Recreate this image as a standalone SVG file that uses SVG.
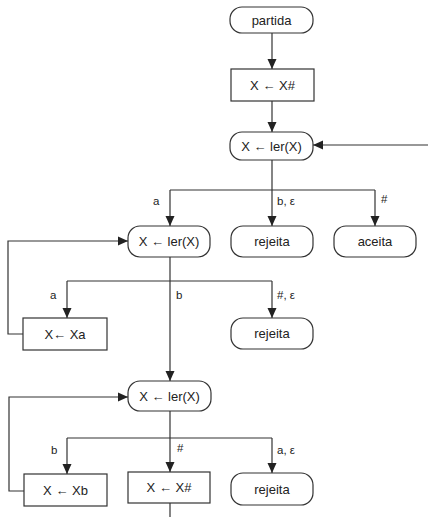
<svg xmlns="http://www.w3.org/2000/svg" width="428" height="517" viewBox="0 0 428 517">
<style>
.n{fill:#fff;stroke:#333;stroke-width:1.2}
.t{font-family:"Liberation Sans","DejaVu Sans",Arial,sans-serif;font-size:13px;fill:#222;text-anchor:middle}
.l{font-family:"Liberation Sans","DejaVu Sans",Arial,sans-serif;font-size:11.5px;fill:#222}
.c{fill:none;stroke:#333;stroke-width:1.2}
</style>
<defs>
<marker id="ah" viewBox="0 0 10 10" refX="10" refY="5" markerWidth="10" markerHeight="10" markerUnits="userSpaceOnUse" orient="auto">
<path d="M0,0.5 L10,5 L0,9.5 z" fill="#222"/>
</marker>
</defs>
<rect width="428" height="517" fill="#fff"/>
<g id="connectors">
<path class="c" d="M272,32 V69" marker-end="url(#ah)"/>
<path class="c" d="M272,101 V132" marker-end="url(#ah)"/>
<path class="c" d="M428,145 H313" marker-end="url(#ah)"/>
<path class="c" d="M272,160 V190"/>
<path class="c" d="M170,190 H375"/>
<path class="c" d="M170,190 V226" marker-end="url(#ah)"/>
<path class="c" d="M272,190 V226" marker-end="url(#ah)"/>
<path class="c" d="M375,190 V226" marker-end="url(#ah)"/>
<path class="c" d="M170,257 V381" marker-end="url(#ah)"/>
<path class="c" d="M67,281 H272"/>
<path class="c" d="M67,281 V318" marker-end="url(#ah)"/>
<path class="c" d="M272,281 V318" marker-end="url(#ah)"/>
<path class="c" d="M23,334 H8 V241 H128" marker-end="url(#ah)"/>
<path class="c" d="M170,411 V438"/>
<path class="c" d="M67,438 H272"/>
<path class="c" d="M67,438 V474" marker-end="url(#ah)"/>
<path class="c" d="M170,438 V472" marker-end="url(#ah)"/>
<path class="c" d="M272,438 V473" marker-end="url(#ah)"/>
<path class="c" d="M24,491 H9 V397 H128" marker-end="url(#ah)"/>
<path class="c" d="M170,503 V517"/>
<text class="l" x="153" y="205">a</text>
<text class="l" x="277" y="205">b, ε</text>
<text class="l" x="381" y="203">#</text>
<text class="l" x="50" y="299">a</text>
<text class="l" x="176" y="299">b</text>
<text class="l" x="277" y="299">#, ε</text>
<text class="l" x="51" y="454">b</text>
<text class="l" x="177" y="452">#</text>
<text class="l" x="277" y="454">a, ε</text>
</g>
<g id="partida"><rect class="n" x="230" y="7" width="83" height="26" rx="12"/><text class="t" x="271.5" y="24.5">partida</text></g>
<g id="init"><rect class="n" x="231" y="69" width="83" height="32"/><text class="t" x="272.5" y="89.5">X ← X#</text></g>
<g id="ler1"><rect class="n" x="230" y="132" width="83" height="28" rx="12"/><text class="t" x="271.5" y="150.5">X ← ler(X)</text></g>
<g id="ler2"><rect class="n" x="128" y="226" width="82" height="31" rx="12"/><text class="t" x="169" y="246">X ← ler(X)</text></g>
<g id="rejeita1"><rect class="n" x="231" y="226" width="82" height="31" rx="12"/><text class="t" x="272" y="246">rejeita</text></g>
<g id="aceita"><rect class="n" x="334" y="226" width="82" height="31" rx="12"/><text class="t" x="375" y="246">aceita</text></g>
<g id="xa"><rect class="n" x="23" y="318" width="84" height="32"/><text class="t" x="65" y="338.5">X← Xa</text></g>
<g id="rejeita2"><rect class="n" x="231" y="318" width="82" height="31" rx="12"/><text class="t" x="272" y="338">rejeita</text></g>
<g id="ler3"><rect class="n" x="128" y="381" width="83" height="30" rx="12"/><text class="t" x="169.5" y="400.5">X ← ler(X)</text></g>
<g id="xb"><rect class="n" x="24" y="474" width="83" height="32"/><text class="t" x="65.5" y="494.5">X ← Xb</text></g>
<g id="xhash"><rect class="n" x="128" y="472" width="82" height="31"/><text class="t" x="169" y="492">X ← X#</text></g>
<g id="rejeita3"><rect class="n" x="231" y="473" width="82" height="32" rx="12"/><text class="t" x="272" y="493.5">rejeita</text></g>
</svg>
